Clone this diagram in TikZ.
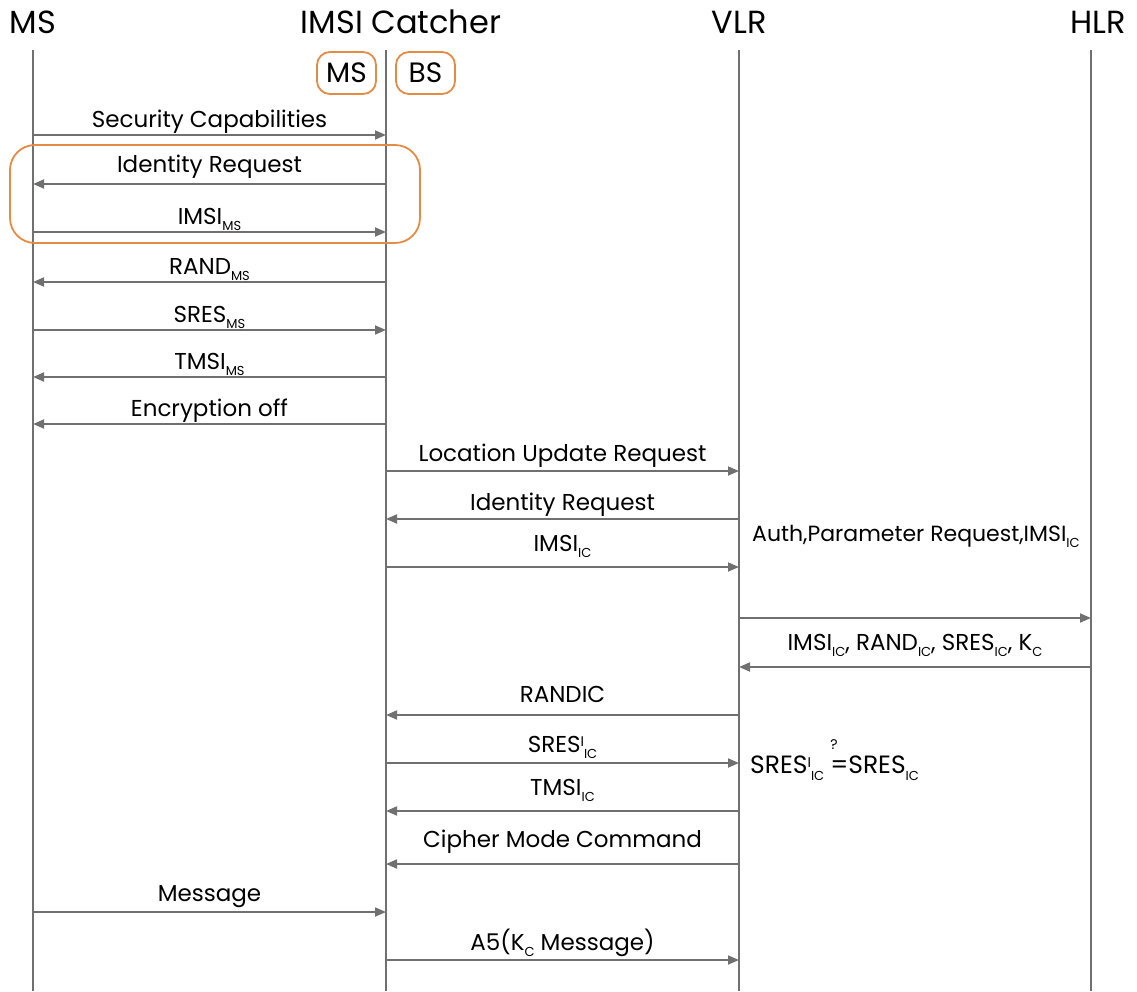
\documentclass[tikz,border=0pt]{standalone}
\usepackage{fontspec}
\setmainfont{Poppins}
\usepackage{tikz}
\usetikzlibrary{arrows.meta, positioning}
\definecolor{linegray}{RGB}{112,112,112}
\definecolor{boxorange}{RGB}{228,140,70}
\newcommand{\lo}[1]{\raisebox{-0.3em}{\fontsize{13}{13}\selectfont #1}}
\newcommand{\hiI}{\raisebox{0.22em}{\fontsize{14}{14}\selectfont I}}

\begin{document}
\begin{tikzpicture}[
    x=1pt, y=-1pt,
    lifeline/.style={draw=linegray, line width=1.8pt},
    msg/.style={draw=linegray, line width=1.8pt, -{Triangle[length=11pt, width=9pt]}},
    lbl/.style={font=\fontsize{23}{23}\selectfont, anchor=base, yshift=#1, inner sep=0pt},
    lbl/.default=9pt,
    note/.style={font=\fontsize{22}{22}\selectfont, anchor=base west, inner sep=0pt},
    head/.style={font=\fontsize{32}{32}\selectfont},
    role/.style={draw=boxorange, line width=1.8pt, rounded corners=13pt, minimum width=59pt, minimum height=42pt, font=\fontsize{28}{28}\selectfont}
]
    \useasboundingbox (0,0) rectangle (1137,991);

    % Participants
    \node[head] (hms) at (33,22) {MS};
    \node[head] (hic) at (401,22) {IMSI Catcher};
    \node[head] (hvlr) at (739,22) {VLR};
    \node[head] (hhlr) at (1098,22) {HLR};

    % Lifelines
    \coordinate (ms) at (33,50);
    \coordinate (ic) at (386,50);
    \coordinate (vlr) at (739,50);
    \coordinate (hlr) at (1091,50);
    \coordinate (msEnd) at (33,991);
    \coordinate (icEnd) at (386,991);
    \coordinate (vlrEnd) at (739,991);
    \coordinate (hlrEnd) at (1091,991);
    \draw[lifeline] (ms) -- (msEnd);
    \draw[lifeline] (ic) -- (icEnd);
    \draw[lifeline] (vlr) -- (vlrEnd);
    \draw[lifeline] (hlr) -- (hlrEnd);

    % Roles of the IMSI catcher
    \node[role] (icms) at (346.5,73) {MS};
    \node[role] (icbs) at (425.5,73) {BS};
    \draw[draw=boxorange, line width=1.8pt, rounded corners=25pt] (10,145) rectangle (420,243);

    % MS <-> IMSI catcher
    \draw[msg] (ms |- 0,135) -- node[lbl=8pt] {Security Capabilities} (ic |- 0,135);
    \draw[msg] (ic |- 0,184) -- node[lbl=12pt] {Identity Request} (ms |- 0,184);
    \draw[msg] (ms |- 0,232) -- node[lbl=8pt] {IMSI\lo{MS}} (ic |- 0,232);
    \draw[msg] (ic |- 0,282) -- node[lbl=8pt] {RAND\lo{MS}} (ms |- 0,282);
    \draw[msg] (ms |- 0,330) -- node[lbl=8pt] {SRES\lo{MS}} (ic |- 0,330);
    \draw[msg] (ic |- 0,377) -- node[lbl=8pt] {TMSI\lo{MS}} (ms |- 0,377);
    \draw[msg] (ic |- 0,424) -- node[lbl=8pt] {Encryption off} (ms |- 0,424);

    % IMSI catcher <-> network
    \draw[msg] (ic |- 0,471) -- node[lbl=10pt] {Location Update Request} (vlr |- 0,471);
    \draw[msg] (vlr |- 0,519) -- node[lbl=9pt] {Identity Request} (ic |- 0,519);
    \draw[msg] (ic |- 0,567) -- node[lbl=16pt] {IMSI\lo{IC}} (vlr |- 0,567);
    \node[note] (auth) at (752,541) {Auth,Parameter Request,IMSI\lo{IC}};
    \draw[msg] (vlr |- 0,618) -- (hlr |- 0,618);
    \draw[msg] (hlr |- 0,667) -- node[lbl=17pt] {IMSI\lo{IC}, RAND\lo{IC}, SRES\lo{IC}, K\lo{C}} (vlr |- 0,667);
    \draw[msg] (vlr |- 0,715) -- node[lbl=13pt] {RANDIC} (ic |- 0,715);
    \draw[msg] (ic |- 0,763) -- node[lbl=11pt] {SRES\hiI\lo{IC}} (vlr |- 0,763);
    \node[note, font=\fontsize{25}{25}\selectfont] (check) at (750,773) {SRES\hiI\lo{IC}\hspace{6pt}\rlap{\raisebox{0.95em}{\fontsize{14}{14}\selectfont ?}}=SRES\lo{IC}};
    \draw[msg] (vlr |- 0,811) -- node[lbl=16pt] {TMSI\lo{IC}} (ic |- 0,811);
    \draw[msg] (vlr |- 0,864) -- node[lbl=17pt] {Cipher Mode Command} (ic |- 0,864);
    \draw[msg] (ms |- 0,912) -- node[lbl=11pt] {Message} (ic |- 0,912);
    \draw[msg] (ic |- 0,960) -- node[lbl=10pt] {A5(K\lo{C} Message)} (vlr |- 0,960);
\end{tikzpicture}
\end{document}
